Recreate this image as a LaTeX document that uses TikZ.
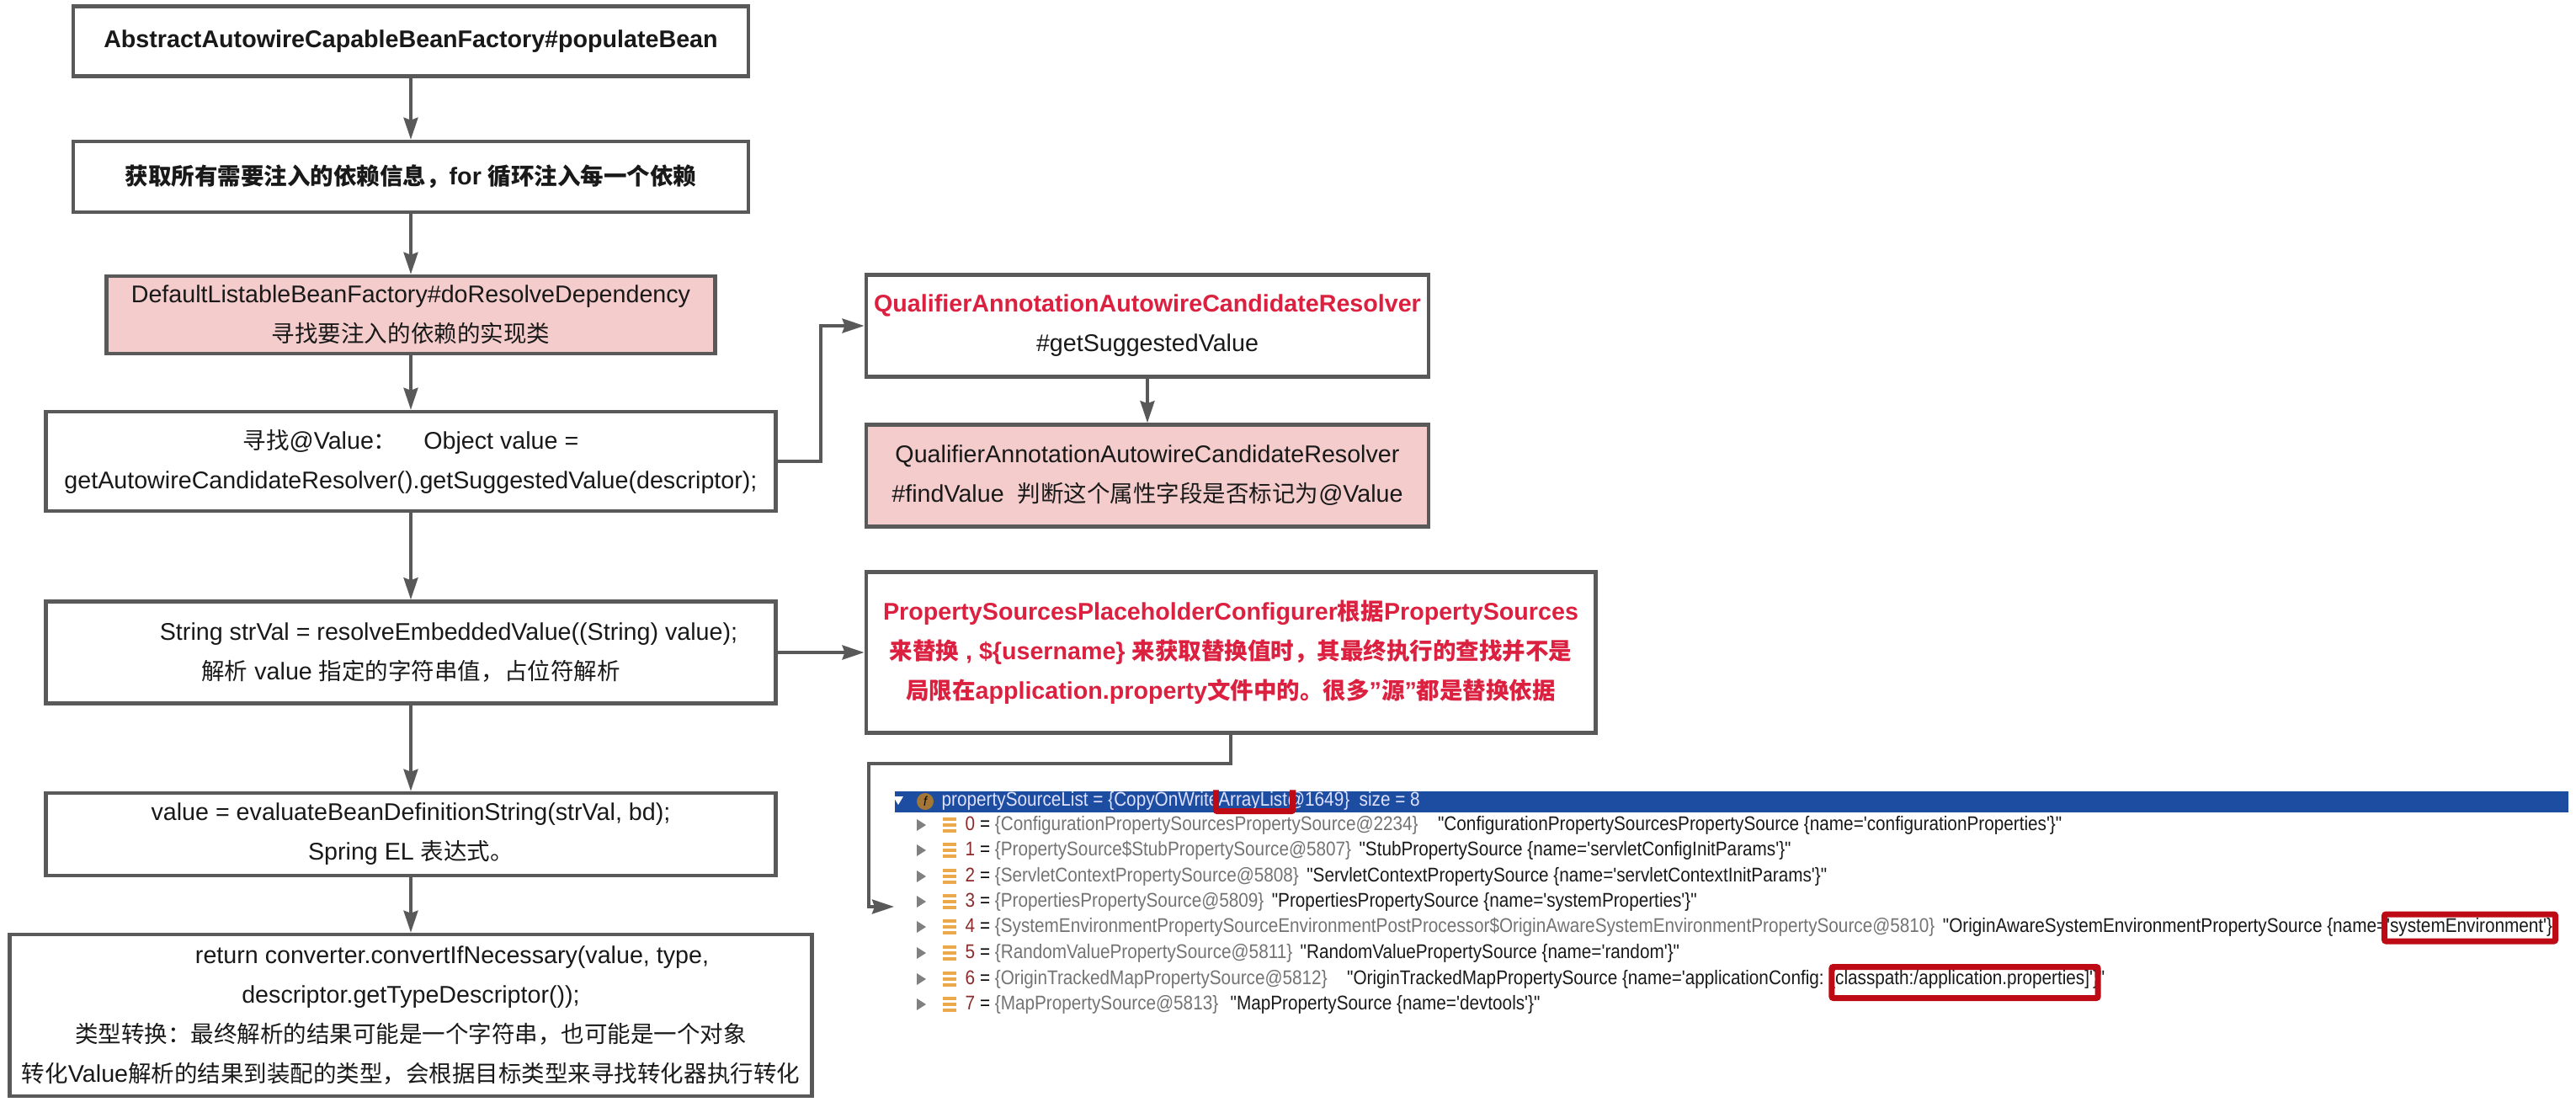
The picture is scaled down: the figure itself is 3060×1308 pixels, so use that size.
\documentclass[tikz,border=0pt]{standalone}
\usepackage{fontspec}
\setmainfont{Liberation Sans}
\newfontfamily\cjk[Scale=0.96]{Noto Sans CJK SC}
\newfontfamily\shotfont[FakeStretch=0.88]{Liberation Sans}
\usetikzlibrary{arrows.meta,positioning}
\definecolor{boxgray}{HTML}{595959}
\definecolor{pinkfill}{HTML}{F4CCCC}
\definecolor{redtext}{HTML}{DC2040}
\definecolor{barblue}{HTML}{1C4DA1}
\definecolor{markred}{HTML}{BE0A14}
\definecolor{stackorange}{HTML}{EBA94B}
\definecolor{numred}{HTML}{8C2A2A}
\begin{document}
\begin{tikzpicture}[
x=0.01cm, y=-0.01cm,
flowbox/.style={draw=boxgray,line width=0.045cm,fill=white,align=center,inner sep=0pt,text=black!90,font=\fontsize{8.15}{13.4}\selectfont},
strongbox/.style={flowbox,font=\fontsize{8.15}{13.4}\selectfont\bfseries},
pinkbox/.style={flowbox,fill=pinkfill},
link/.style={draw=boxgray,line width=0.035cm,-{Stealth[length=0.26cm,width=0.17cm,inset=0.03cm]}},
shotgray/.style={anchor=west,inner sep=0pt,text=black!55,font=\fontsize{6.7}{8}\shotfont},
shotblack/.style={inner sep=0pt,text=black!90,font=\fontsize{6.7}{8}\shotfont},
redmark/.style={draw=markred,line width=0.07cm,rounded corners=0.02cm,inner sep=0pt},
rowmark/.pic={
    \fill[black!50] (-5,-7) -- (6,0) -- (-5,7) -- cycle;
    \fill[stackorange] (26,-9) rectangle (42,-5);
    \fill[stackorange] (26,-2) rectangle (42,2);
    \fill[stackorange] (26,5) rectangle (42,9);
}
]
\useasboundingbox (0,0) rectangle (3060,1308);

\node (bean)[strongbox,minimum width=8.02cm,minimum height=0.83cm] at (488,49)
    {AbstractAutowireCapableBeanFactory\#populateBean};
\node (inject)[strongbox,minimum width=8.02cm,minimum height=0.84cm] at (488,210)
    {{\cjk 获取所有需要注入的依赖信息，}for {\cjk 循环注入每一个依赖}};
\node (resolve)[pinkbox,minimum width=7.23cm,minimum height=0.92cm] at (488,374)
    {DefaultListableBeanFactory\#doResolveDependency\\{\cjk 寻找要注入的依赖的实现类}};
\node (suggest)[flowbox,minimum width=8.66cm,minimum height=1.18cm] at (488,548)
    {{\cjk 寻找}@Value{\cjk ：}\ \ \ \ Object value =\\getAutowireCandidateResolver().getSuggestedValue(descriptor);};
\node (embed)[flowbox,minimum width=8.66cm,minimum height=1.21cm] at (488,775)
    {\hspace*{0.9cm}String strVal = resolveEmbeddedValue((String) value);\\{\cjk 解析} value {\cjk 指定的字符串值，占位符解析}};
\node (evaluate)[flowbox,minimum width=8.66cm,minimum height=0.98cm] at (488,991)
    {value = evaluateBeanDefinitionString(strVal, bd);\\Spring EL {\cjk 表达式。}};
\node (convert)[flowbox,minimum width=9.52cm,minimum height=1.92cm] at (488,1206)
    {\hspace*{0.98cm}return converter.convertIfNecessary(value, type,\\descriptor.getTypeDescriptor());\\{\cjk 类型转换：最终解析的结果可能是一个字符串，也可能是一个对象}\\{\cjk 转化}Value{\cjk 解析的结果到装配的类型，会根据目标类型来寻找转化器执行转化}};

\node (qualifier)[flowbox,minimum width=6.68cm,minimum height=1.21cm] at (1363,387)
    {\textcolor{redtext}{\bfseries QualifierAnnotationAutowireCandidateResolver}\\\#getSuggestedValue};
\node (findvalue)[pinkbox,minimum width=6.68cm,minimum height=1.21cm] at (1363,565)
    {QualifierAnnotationAutowireCandidateResolver\\\#findValue\ \ {\cjk 判断这个属性字段是否标记为}@Value};
\node (placeholder)[strongbox,text=redtext,minimum width=8.66cm,minimum height=1.91cm] at (1462,775)
    {PropertySourcesPlaceholderConfigurer{\cjk 根据}PropertySources\\{\cjk 来替换} , \$\{username\} {\cjk 来获取替换值时，其最终执行的查找并不是}\\{\cjk 局限在}application.property{\cjk 文件中的。很多}"{\cjk 源}"{\cjk 都是替换依据}};

\node (bar)[fill=barblue,inner sep=0pt,minimum width=19.86cm,minimum height=0.25cm] at (2057,952) {};
\fill[white] (1061,946) -- (1073,946) -- (1067,956) -- cycle;
\node (field)[circle,fill=stackorange!70!black,inner sep=0pt,minimum size=0.2cm,font=\fontsize{4.5}{5}\shotfont\itshape] at (1099,952) {f};
\node (head)[shotgray,text=blue!12!white] at (1118,951)
    {propertySourceList = \{CopyOnWriteArrayList@1649\}\ \ size = 8};

\pic at (1094,980) {rowmark};
\pic at (1094,1010) {rowmark};
\pic at (1094,1041) {rowmark};
\pic at (1094,1071) {rowmark};
\pic at (1094,1101) {rowmark};
\pic at (1094,1132) {rowmark};
\pic at (1094,1163) {rowmark};
\pic at (1094,1193) {rowmark};

\node (g0)[shotgray] at (1146,980) {\textcolor{numred}{0} \textcolor{black}{=} \{ConfigurationPropertySourcesPropertySource@2234\}};
\node (b0)[shotblack,right=0.22cm of g0] {"ConfigurationPropertySourcesPropertySource \{name='configurationProperties'\}"};
\node (g1)[shotgray] at (1146,1010) {\textcolor{numred}{1} \textcolor{black}{=} \{PropertySource\$StubPropertySource@5807\}};
\node (b1)[shotblack,right=0.08cm of g1] {"StubPropertySource \{name='servletConfigInitParams'\}"};
\node (g2)[shotgray] at (1146,1041) {\textcolor{numred}{2} \textcolor{black}{=} \{ServletContextPropertySource@5808\}};
\node (b2)[shotblack,right=0.08cm of g2] {"ServletContextPropertySource \{name='servletContextInitParams'\}"};
\node (g3)[shotgray] at (1146,1071) {\textcolor{numred}{3} \textcolor{black}{=} \{PropertiesPropertySource@5809\}};
\node (b3)[shotblack,right=0.08cm of g3] {"PropertiesPropertySource \{name='systemProperties'\}"};
\node (g4)[shotgray] at (1146,1101) {\textcolor{numred}{4} \textcolor{black}{=} \{SystemEnvironmentPropertySourceEnvironmentPostProcessor\$OriginAwareSystemEnvironmentPropertySource@5810\}};
\node (b4)[shotblack,right=0.08cm of g4] {"OriginAwareSystemEnvironmentPropertySource \{name='systemEnvironment'\}"};
\node (g5)[shotgray] at (1146,1132) {\textcolor{numred}{5} \textcolor{black}{=} \{RandomValuePropertySource@5811\}};
\node (b5)[shotblack,right=0.08cm of g5] {"RandomValuePropertySource \{name='random'\}"};
\node (g6)[shotgray] at (1146,1163) {\textcolor{numred}{6} \textcolor{black}{=} \{OriginTrackedMapPropertySource@5812\}};
\node (b6)[shotblack,right=0.22cm of g6] {"OriginTrackedMapPropertySource \{name='applicationConfig: [classpath:/application.properties]'\}"};
\node (g7)[shotgray] at (1146,1193) {\textcolor{numred}{7} \textcolor{black}{=} \{MapPropertySource@5813\}};
\node (b7)[shotblack,right=0.13cm of g7] {"MapPropertySource \{name='devtools'\}"};

\node (mark1)[inner sep=0pt,minimum width=0.9cm,minimum height=0.24cm] at (1490,951) {};
\draw[redmark] (mark1.north west) -- (mark1.south west) -- (mark1.south east) -- (mark1.north east);
\node (mark2)[redmark,minimum width=2.03cm,minimum height=0.32cm] at (2934,1102) {};
\node (mark3)[redmark,minimum width=3.16cm,minimum height=0.37cm] at (2334,1167) {};

\coordinate (elbow) at (975,387);
\coordinate (turn) at (1032,907);
\coordinate (rowtip) at (1062,1077);

\draw[link] (bean) -- (inject);
\draw[link] (inject) -- (resolve);
\draw[link] (resolve) -- (suggest);
\draw[link] (suggest) -- (embed);
\draw[link] (embed) -- (evaluate);
\draw[link] (evaluate) -- (convert);
\draw[link] (qualifier) -- (findvalue);
\draw[link] (embed) -- (placeholder);
\draw[link] (suggest.east) -| (elbow) -- (qualifier.west);
\draw[link] (placeholder.south) |- (turn) |- (rowtip);
\end{tikzpicture}
\end{document}
